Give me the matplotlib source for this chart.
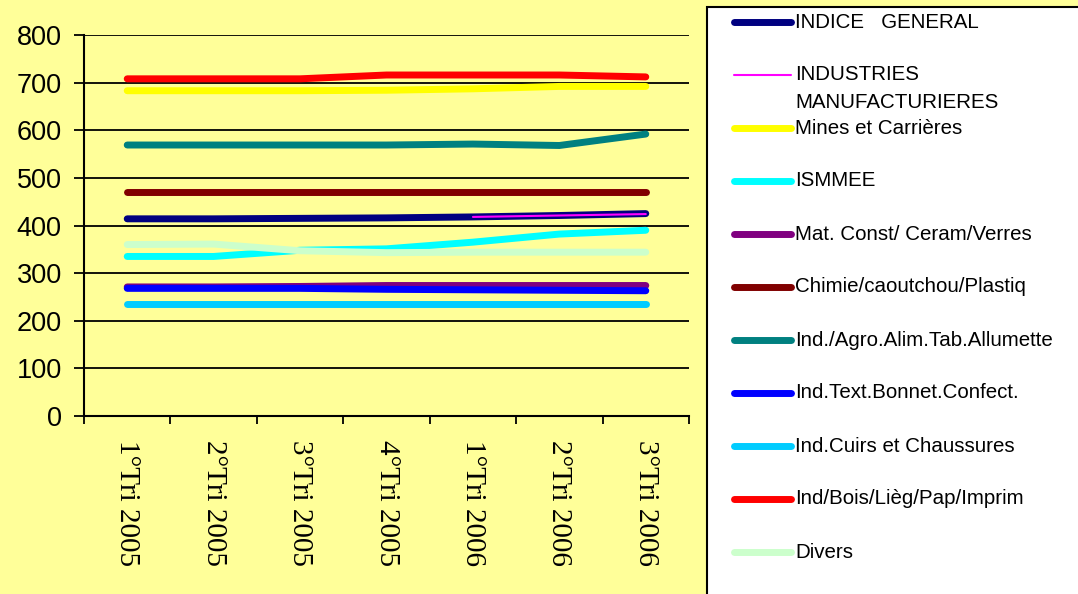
import numpy as np
import matplotlib
matplotlib.use("Agg")
import matplotlib.pyplot as plt
from matplotlib.lines import Line2D
from matplotlib.patches import Rectangle

quarters = ["1°Tri 2005", "2°Tri 2005", "3°Tri 2005", "4°Tri 2005",
            "1°Tri 2006", "2°Tri 2006", "3°Tri 2006"]

nan = np.nan
indice_general = [414, 414, 415, 416, 418, 421, 425]
ind_manuf = [nan, nan, nan, nan, 418, 421, 424]
mines = [683, 683, 683, 684, 687, 692, 692]
ismmee = [335, 335, 348, 351, 365, 382, 390]
mat_const = [271, 271, 272, 274, 274, 274, 274]
chimie = [470, 470, 470, 470, 470, 470, 470]
agro = [569, 569, 569, 569, 571, 568, 592]
textile = [268, 268, 268, 266, 265, 264, 263]
cuirs = [235, 235, 235, 235, 235, 235, 235]
bois = [708, 708, 708, 716, 716, 716, 712]
divers = [360, 361, 347, 343, 344, 344, 344]

names = ["INDICE   GENERAL", "INDUSTRIES\nMANUFACTURIERES", "Mines et Carrières",
         "ISMMEE", "Mat. Const/ Ceram/Verres", "Chimie/caoutchou/Plastiq",
         "Ind./Agro.Alim.Tab.Allumette", "Ind.Text.Bonnet.Confect.",
         "Ind.Cuirs et Chaussures", "Ind/Bois/Lièg/Pap/Imprim", "Divers"]
series = [indice_general, ind_manuf, mines, ismmee, mat_const, chimie,
          agro, textile, cuirs, bois, divers]
colors = ["#000080", "#FF00FF", "#FFFF00", "#00FFFF", "#800080", "#800000",
          "#008080", "#0000FF", "#00CCFF", "#FF0000", "#CCFFCC"]
widths = [5, 1.5, 5, 5, 5, 5, 5, 5, 5, 5, 5]

W, H = 1078, 594
fig = plt.figure(figsize=(W / 100, H / 100), dpi=100)
fig.patch.set_facecolor("#FFFF99")

# plot area in pixels: x 84..689, y 35..416
ax = fig.add_axes([84 / W, 1 - 416 / H, (689 - 84) / W, (416 - 35) / H])
ax.set_facecolor("#FFFF99")

x = np.arange(len(quarters))
for vals, c, lw in zip(series, colors, widths):
    ax.plot(x, vals, color=c, lw=lw, solid_capstyle="round", zorder=3)

ax.set_xlim(-0.5, len(quarters) - 0.5)
ax.set_ylim(0, 800)
ax.set_yticks(np.arange(0, 801, 100))
ax.yaxis.grid(True, color="black", lw=1.3, zorder=0)
ax.set_axisbelow(True)

for s in ["top", "right"]:
    ax.spines[s].set_visible(False)
for s in ["left", "bottom"]:
    ax.spines[s].set_color("black")
    ax.spines[s].set_linewidth(1.5)

ax.tick_params(axis="y", direction="out", length=7, width=1.3, pad=9,
               labelsize=19.5, labelfontfamily="Liberation Sans")
# Excel-style: ticks between categories, labels centred
ax.set_xticks(np.arange(-0.5, len(quarters), 1.0))
ax.set_xticklabels([])
ax.tick_params(axis="x", which="major", direction="out", length=6, width=1.3)
ax.set_xticks(x, minor=True)
ax.set_xticklabels(quarters, minor=True, rotation=270,
                   fontfamily="Liberation Serif", fontsize=21)
ax.tick_params(axis="x", which="minor", length=0, pad=17)

# legend box, drawn by hand in pixel coordinates
def px(xp, yp):
    return xp / W, 1 - yp / H

fig.patches.append(Rectangle(px(707, 700), 500 / W, 693 / H,
                             transform=fig.transFigure, facecolor="white",
                             edgecolor="black", lw=1.5, zorder=1))
for i, (name, c) in enumerate(zip(names, colors)):
    yy = 22 + i * 53
    lw = 1.5 if widths[i] < 2 else 5
    fig.lines.append(Line2D([734 / W, 791 / W], [1 - yy / H] * 2,
                            transform=fig.transFigure, color=c, lw=lw,
                            solid_capstyle="round", zorder=2))
    for j, part in enumerate(name.split("\n")):
        fig.text(795 / W, 1 - (yy + j * 27) / H, part, fontsize=14.8,
                 family="Liberation Sans", va="center", ha="left", zorder=3)

fig.savefig("out.png", dpi=100, facecolor=fig.get_facecolor())
